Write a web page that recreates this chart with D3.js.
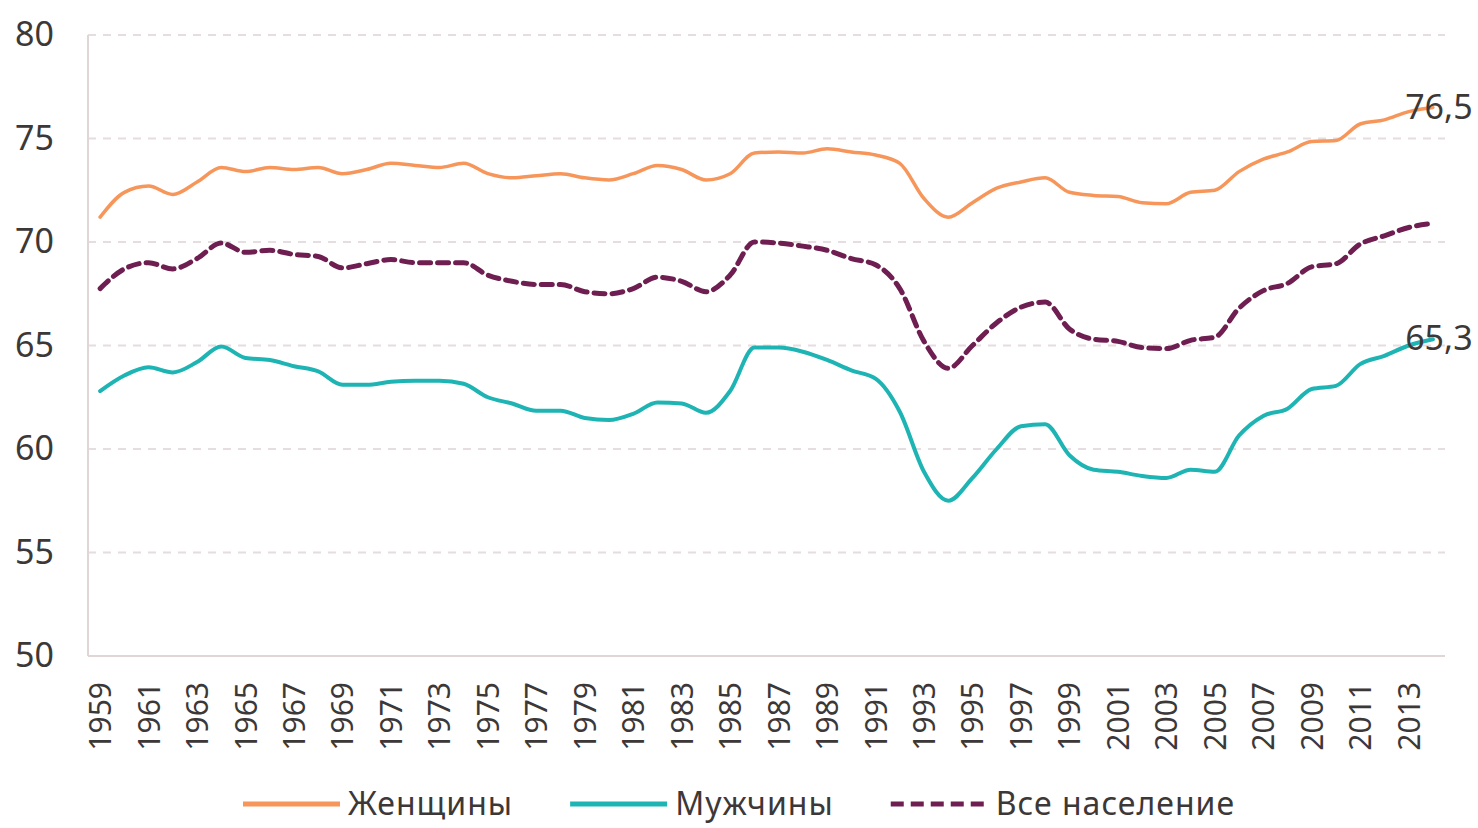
<!DOCTYPE html>
<html>
<head>
    <meta charset="utf-8">
    <title>Ожидаемая продолжительность жизни</title>
    <style>
        body { margin: 0; background: #fff; }
        svg { display: block; }
        text { font-family: "Noto Sans", "Open Sans", sans-serif; fill: #3d3838; }
        .grid line { stroke: #e6dde0; stroke-width: 2; stroke-dasharray: 8 7; }
        .series { fill: none; stroke-linejoin: round; stroke-linecap: round; }
    </style>
</head>
<body>
<svg id="chart" width="1478" height="828"></svg>
<script src="https://d3js.org/d3.v7.min.js"></script>
<script>
    // years 1959..2014
    const years = d3.range(1959, 2015);
    const yTicks = [50, 55, 60, 65, 70, 75, 80];

    const women = [71.2, 72.4, 72.7, 72.3, 72.9, 73.6, 73.4, 73.6, 73.5, 73.6, 73.3, 73.5, 73.8, 73.7,
                   73.6, 73.8, 73.3, 73.1, 73.2, 73.3, 73.1, 73.0, 73.3, 73.7, 73.5, 73.0, 73.3, 74.3,
                   74.35, 74.3, 74.5, 74.35, 74.2, 73.8, 72.1, 71.2, 71.9, 72.6, 72.9, 73.1, 72.4, 72.25,
                   72.2, 71.9, 71.85, 72.4, 72.5, 73.4, 74.0, 74.35, 74.85, 74.9, 75.7, 75.9, 76.3, 76.5];
    const men = [62.8, 63.55, 63.95, 63.7, 64.2, 64.95, 64.4, 64.3, 64.0, 63.75, 63.1, 63.1, 63.25, 63.3,
                 63.3, 63.15, 62.5, 62.2, 61.85, 61.85, 61.5, 61.4, 61.7, 62.25, 62.2, 61.75, 62.8, 64.9,
                 64.9, 64.7, 64.3, 63.8, 63.4, 61.8, 58.9, 57.5, 58.6, 60.0, 61.1, 61.2, 59.7, 59.0,
                 58.9, 58.7, 58.6, 59.0, 58.9, 60.65, 61.6, 61.95, 62.9, 63.05, 64.1, 64.5, 65.0, 65.3];
    const total = [67.75, 68.7, 69.0, 68.7, 69.2, 69.95, 69.5, 69.6, 69.4, 69.3, 68.75, 68.95, 69.15, 69.0,
                   69.0, 69.0, 68.4, 68.1, 67.95, 67.95, 67.6, 67.5, 67.75, 68.3, 68.1, 67.6, 68.4, 70.0,
                   69.95, 69.8, 69.6, 69.2, 68.9, 67.75, 65.2, 63.9, 65.0, 66.1, 66.85, 67.1, 65.8, 65.3,
                   65.2, 64.9, 64.85, 65.25, 65.4, 66.8, 67.65, 68.0, 68.8, 68.95, 69.9, 70.3, 70.7, 70.9];

    const series = [
        { name: 'Женщины', values: women, color: '#f7965a', width: 3.5, dash: null, label: '76,5' },
        { name: 'Мужчины', values: men, color: '#1eb4b4', width: 4, dash: null, label: '65,3' },
        { name: 'Все население', values: total, color: '#6e1e50', width: 5, dash: '11 7', label: null }
    ];

    const margin = { top: 35, right: 33, bottom: 172, left: 88 };
    const W = 1478, H = 828;
    const svg = d3.select('#chart');

    const x = d3.scalePoint().domain(years).range([margin.left, W - margin.right]).padding(0.5);
    const y = d3.scaleLinear().domain([50, 80]).range([H - margin.bottom, margin.top]);

    // gridlines
    svg.append('g').attr('class', 'grid')
        .selectAll('line').data(yTicks.slice(1)).join('line')
        .attr('x1', margin.left).attr('x2', W - margin.right)
        .attr('y1', d => y(d)).attr('y2', d => y(d));

    // axis frame lines
    svg.append('line')
        .attr('x1', margin.left).attr('x2', margin.left)
        .attr('y1', margin.top).attr('y2', y(50))
        .attr('stroke', '#e0d6d6').attr('stroke-width', 2);
    svg.append('line')
        .attr('x1', margin.left).attr('x2', W - margin.right)
        .attr('y1', y(50)).attr('y2', y(50))
        .attr('stroke', '#e0d6d6').attr('stroke-width', 2);

    // y axis
    const yAxis = svg.append('g')
        .attr('transform', `translate(${margin.left - 34},0)`)
        .call(d3.axisLeft(y).tickValues(yTicks).tickSize(0).tickPadding(0));
    yAxis.select('.domain').remove();
    yAxis.selectAll('text').style('font-size', '34px').attr('fill', '#352f2f')
        .attr('font-family', '"Noto Sans", sans-serif');

    // x axis
    const xAxis = svg.append('g')
        .attr('transform', `translate(0,${y(50)})`)
        .call(d3.axisBottom(x).tickValues(years.filter((d, i) => i % 2 === 0)).tickSize(0));
    xAxis.select('.domain').remove();
    xAxis.selectAll('text')
        .style('font-size', '30px').attr('fill', '#352f2f')
        .attr('font-family', '"Noto Sans", sans-serif')
        .attr('text-anchor', 'end')
        .attr('dy', '0.35em')
        .attr('transform', 'translate(0,26) rotate(-90)')
        .attr('x', 0).attr('y', 0);

    // lines
    const line = d3.line()
        .x((d, i) => x(years[i]))
        .y(d => y(d))
        .curve(d3.curveMonotoneX);

    svg.append('g').selectAll('path').data(series.slice().reverse()).join('path')
        .attr('class', 'series')
        .attr('d', d => line(d.values))
        .attr('stroke', d => d.color)
        .attr('stroke-width', d => d.width)
        .attr('stroke-dasharray', d => d.dash)
        .attr('stroke-linecap', d => d.dash ? 'butt' : 'round');

    // end labels
    svg.append('g').selectAll('text').data(series.filter(s => s.label)).join('text')
        .attr('x', d => x(years[years.length - 1]) + 6)
        .attr('y', d => y(d.values[d.values.length - 1]) + 2)
        .attr('text-anchor', 'middle')
        .attr('dominant-baseline', 'middle')
        .style('font-size', '34px')
        .attr('font-family', '"DejaVu Sans", sans-serif')
        .text(d => d.label);

    // legend
    const legend = svg.append('g').attr('transform', 'translate(0,804)');
    let lx = 243;
    series.forEach(s => {
        legend.append('line')
            .attr('x1', lx).attr('x2', lx + 97)
            .attr('stroke', s.color).attr('stroke-width', 5)
            .attr('stroke-dasharray', s.dash ? '13 7' : null);
        const t = legend.append('text')
            .attr('x', lx + 105).attr('dy', '0.35em')
            .style('font-size', '32px')
            .style('letter-spacing', '1px')
            .text(s.name);
        lx = lx + 105 + t.node().getComputedTextLength() + 57;
    });
</script>
</body>
</html>
